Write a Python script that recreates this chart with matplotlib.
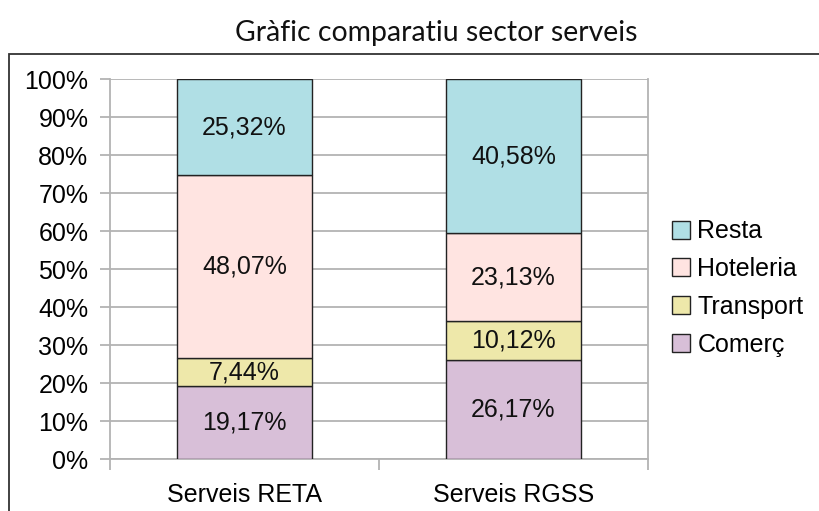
import matplotlib
matplotlib.use("Agg")
import matplotlib.pyplot as plt
from matplotlib.patches import Rectangle
import numpy as np

categories = ["Serveis RETA", "Serveis RGSS"]
series_names = ["Comerç", "Transport", "Hoteleria", "Resta"]
comerc = [19.17, 26.17]
transport = [7.44, 10.12]
hoteleria = [48.07, 23.13]
resta = [25.32, 40.58]
series_values = [comerc, transport, hoteleria, resta]
colors = ["#d8bfd8", "#eee8aa", "#ffe4e1", "#b0dfe5"]
yticks = list(range(0, 101, 10))
ytick_labels = [f"{v}%" for v in yticks]
title = "Gràfic comparatiu sector serveis"

plt.rcParams['font.family'] = ['Liberation Sans', 'DejaVu Sans']

fig = plt.figure(figsize=(8.2, 5.11), dpi=100)
W, H = 820, 511
ax = fig.add_axes([110 / W, 1 - 459 / H, (648 - 110) / W, (459 - 79) / H])

x = np.arange(len(categories))
bottom = np.zeros(len(categories))
handles = []
for name, vals, col in zip(series_names, series_values, colors):
    bars = ax.bar(x, vals, width=0.505, bottom=bottom, color=col,
                  edgecolor="#222222", linewidth=1.0, label=name, zorder=3)
    for xi, b, v in zip(x, bottom, vals):
        ax.text(xi, b + v / 2, f"{v:.2f}%".replace(".", ","), ha="center",
                va="center", fontsize=18, color="#111111", zorder=4)
    bottom = bottom + np.array(vals)
    handles.append(bars)

ax.set_xlim(-0.5, 1.5)
ax.set_ylim(0, 100)
ax.set_yticks(yticks)
ax.set_yticklabels(ytick_labels, fontsize=18)
ax.set_xticks([-0.5, 0.5, 1.5])
ax.set_xticklabels([])
ax.set_xticks(x, minor=True)
ax.set_xticklabels(categories, minor=True, fontsize=18)
ax.tick_params(axis="x", which="minor", length=0, pad=17)
ax.tick_params(axis="x", which="major", length=8, color="#b3b3b3", width=1.3)
ax.tick_params(axis="y", length=7.5, color="#b3b3b3", width=1.3, pad=8)
ax.yaxis.grid(True, color="#b3b3b3", linewidth=1.3, zorder=0)
ax.set_axisbelow(True)
for s in ["left", "right", "bottom"]:
    ax.spines[s].set_color("#b3b3b3")
    ax.spines[s].set_linewidth(1.3)
ax.spines["top"].set_visible(False)

leg = fig.legend(handles[::-1], series_names[::-1], loc="center left",
                 bbox_to_anchor=(672 / W, 1 - 288 / H), frameon=False,
                 fontsize=18, handlelength=0.72, handleheight=0.72,
                 handletextpad=0.3, labelspacing=0.55, borderpad=0,
                 borderaxespad=0)
for p in leg.get_patches():
    p.set_edgecolor("#222222")
    p.set_linewidth(1.0)

fig.text(436 / W, 1 - 33 / H, title, ha="center", va="center",
         fontsize=20.4, family=["Lato", "DejaVu Sans"], color="#111111")

fig.patches.append(Rectangle((9.5 / W, -0.1), 1.2, 1 - 54.5 / H + 0.1,
                             transform=fig.transFigure, fill=False,
                             edgecolor="#333333", linewidth=1.3))

fig.savefig("out.png", dpi=100, facecolor="white")
